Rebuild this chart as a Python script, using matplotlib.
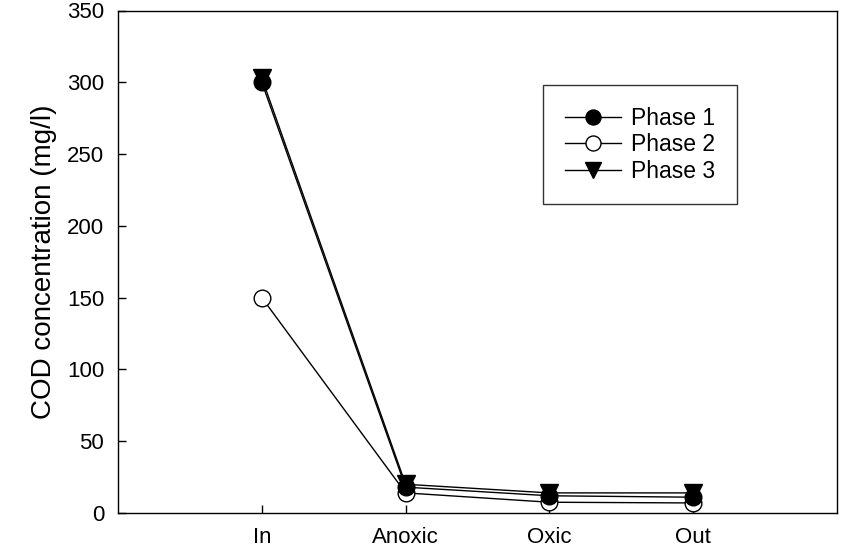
import numpy as np
import matplotlib
matplotlib.use("Agg")
import matplotlib.pyplot as plt

plt.rcParams['font.family'] = ['Liberation Sans', 'DejaVu Sans']

stages = ['In', 'Anoxic', 'Oxic', 'Out']
phase1 = [300, 18, 12, 11]
phase2 = [150, 14, 7.5, 7]
phase3 = [303, 20, 14, 14]

x = np.arange(1, len(stages) + 1)

fig = plt.figure(figsize=(8.44, 5.54), dpi=100)
ax = fig.add_axes([118 / 844, 1 - 513 / 554, (837 - 118) / 844, (513 - 10.5) / 554])

ax.plot(x, phase3, color="black", lw=1.0, marker="v", ms=13, mfc="black", mec="black", label="Phase 3", zorder=3)
ax.plot(x, phase2, color="black", lw=1.0, marker="o", ms=12, mfc="white", mec="black", label="Phase 2", zorder=4)
ax.plot(x, phase1, color="black", lw=1.0, marker="o", ms=12, mfc="black", mec="black", label="Phase 1", zorder=5)

ax.set_xlim(0, 5)
ax.set_ylim(0, 350)
ax.set_xticks(x)
ax.set_xticklabels(stages)
ax.set_yticks(np.arange(0, 351, 50))
ax.tick_params(direction="in", length=6, width=1, labelsize=16, top=False, right=False)
ax.tick_params(axis="x", pad=10)
ax.tick_params(axis="y", pad=10)
ax.set_ylabel("COD concentration (mg/l)", fontsize=20, labelpad=7)
for s in ax.spines.values():
    s.set_linewidth(1.0)

h, l = ax.get_legend_handles_labels()
leg = ax.legend(h[::-1], l[::-1], loc="upper left", bbox_to_anchor=((543 - 118) / 719, 1 - (85 - 10.5) / 502.5),
                fontsize=16.5, frameon=True, fancybox=False, edgecolor="black", handlelength=2.45,
                borderpad=0.95, labelspacing=0.15, handletextpad=0.45, borderaxespad=0, markerscale=0.9)
leg.get_frame().set_linewidth(1.0)

plt.savefig("out.png", dpi=100)
